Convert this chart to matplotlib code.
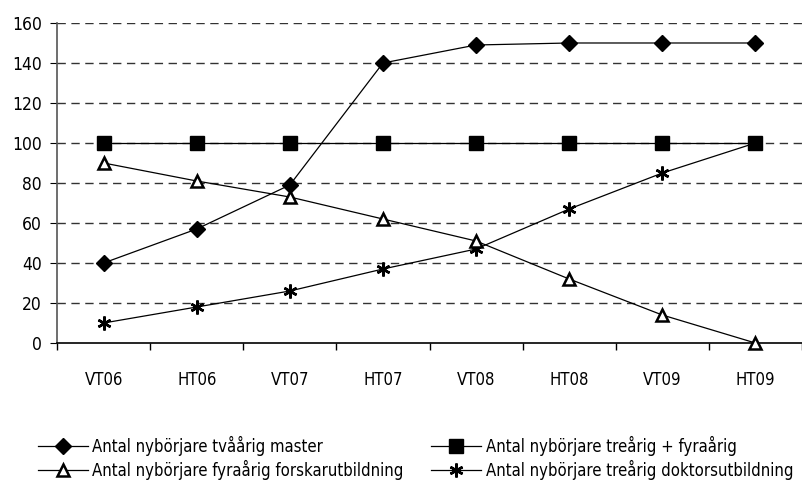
import numpy as np
import matplotlib
matplotlib.use("Agg")
import matplotlib.pyplot as plt

plt.rcParams['font.family'] = ['DejaVu Sans']
plt.rcParams['font.stretch'] = 'condensed'

# terminer
terms = ["VT06", "HT06", "VT07", "HT07", "VT08", "HT08", "VT09", "HT09"]

# antal nybörjare per program
master = [40, 57, 79, 140, 149, 150, 150, 150]
tre_fyra = [100, 100, 100, 100, 100, 100, 100, 100]
forskar = [90, 81, 73, 62, 51, 32, 14, 0]
doktor = [10, 18, 26, 37, 47, 67, 85, 100]

labels = ["Antal nybörjare tvåårig master",
          "Antal nybörjare treårig + fyraårig",
          "Antal nybörjare fyraårig forskarutbildning",
          "Antal nybörjare treårig doktorsutbildning"]

fig = plt.figure(figsize=(8.02, 4.84), dpi=100)
ax = fig.add_axes([0.0711, 0.2913, 0.9289, 0.6612])

x = np.arange(len(terms))
l1, = ax.plot(x, master, color='black', lw=0.9, marker='D', ms=8, mfc='black', mec='black', clip_on=False)
l2, = ax.plot(x, tre_fyra, color='black', lw=0.9, marker='s', ms=9.5, mfc='black', mec='black', clip_on=False)
l3, = ax.plot(x, forskar, color='black', lw=0.9, marker='^', ms=8, mfc='white', mec='black', mew=1.8,
              clip_on=False, zorder=3)
l4, = ax.plot(x, doktor, color='black', lw=0.9, marker=(6, 2, 0), ms=10, mec='black', mew=1.8, clip_on=False)

ax.set_xlim(-0.5, len(terms) - 0.5)
ax.set_ylim(0, 160)
ax.set_yticks(range(0, 161, 20))
ax.set_xticks(x)
ax.set_xticklabels(terms)
ax.set_xticks(np.arange(-0.5, len(terms), 1), minor=True)
ax.tick_params(axis='x', which='major', length=0, pad=20, labelsize=12)
ax.tick_params(axis='x', which='minor', length=5, width=1, color='black')
ax.tick_params(axis='y', length=5, labelsize=12.5, pad=6)

for v in range(20, 161, 20):
    ax.axhline(v, color='#333333', lw=1, ls=(0, (6, 4)), zorder=0)

for s in ['top', 'right']:
    ax.spines[s].set_visible(False)
ax.spines['left'].set_color('#555555')
ax.spines['left'].set_linewidth(1.2)
ax.spines['bottom'].set_linewidth(1.2)

leg_kw = dict(loc='upper left', frameon=False, fontsize=12, handlelength=3.0,
              handletextpad=0.25, labelspacing=0.25, borderaxespad=0, borderpad=0)
fig.legend([l1, l3], [labels[0], labels[2]], bbox_to_anchor=(0.047, 0.1), **leg_kw)
fig.legend([l2, l4], [labels[1], labels[3]], bbox_to_anchor=(0.538, 0.1), **leg_kw)

fig.savefig("out.png", dpi=100)
